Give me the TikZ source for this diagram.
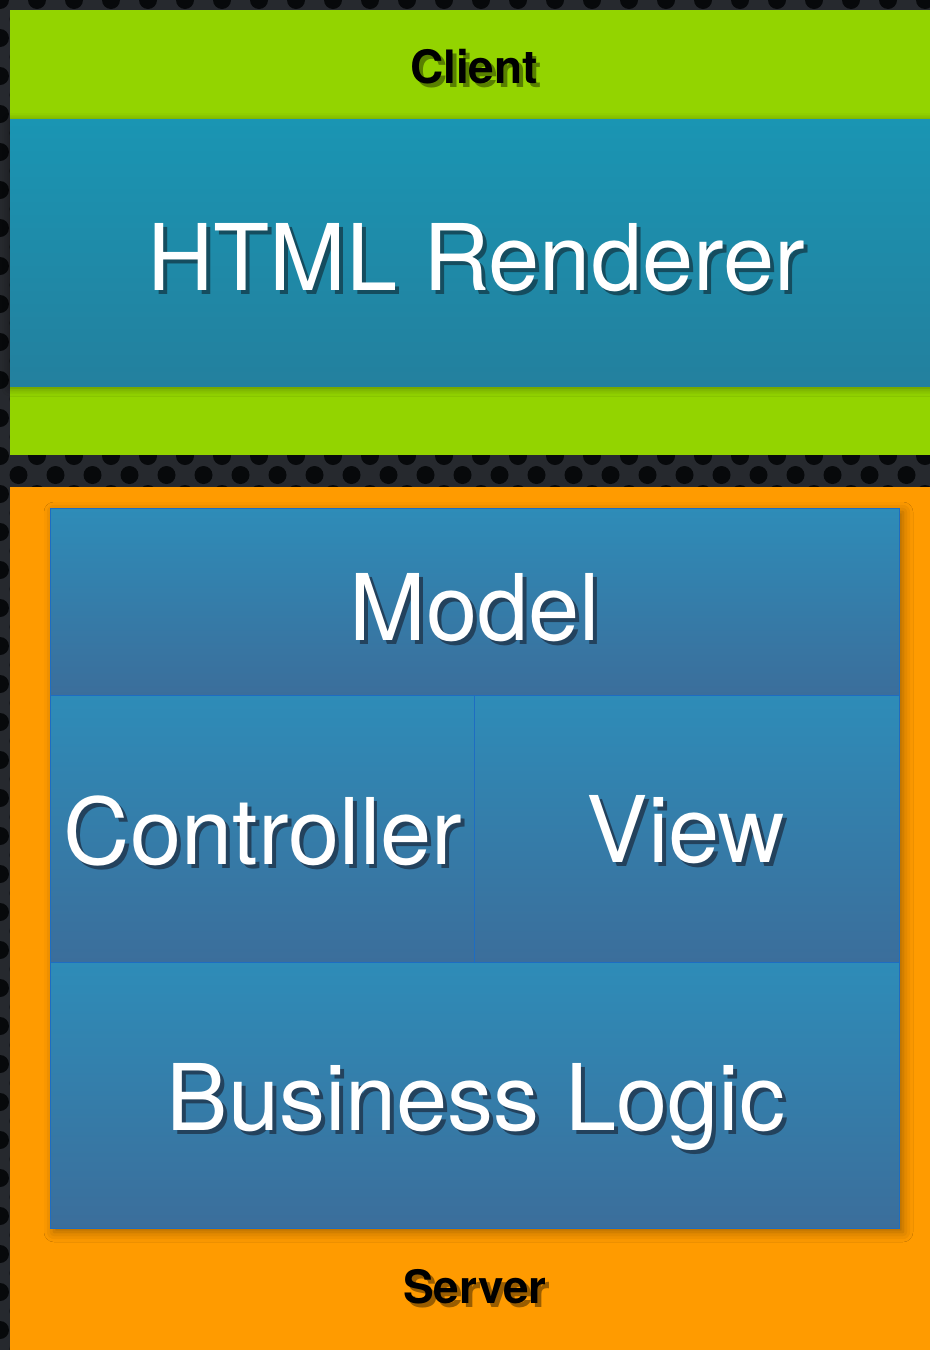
\documentclass[tikz,border=0pt]{standalone}
\usepackage{fontspec}
\setmainfont{TeX Gyre Heros}
\usetikzlibrary{shadows.blur}
\definecolor{meshgrey}{HTML}{26292E}
\definecolor{meshhole}{HTML}{07090B}
\definecolor{clientgreen}{HTML}{93D400}
\definecolor{serverorange}{HTML}{FF9B00}
\definecolor{rendertop}{HTML}{1A95B3}
\definecolor{renderbot}{HTML}{23809E}
\definecolor{tiletop}{HTML}{2E8CB8}
\definecolor{tilebot}{HTML}{3B6E9B}
\definecolor{tileline}{HTML}{1E6DC2}

% text with a drop shadow: shadow colour, text
\newcommand{\shtext}[2]{\makebox[0pt][l]{\hspace{2pt}\raisebox{-2pt}{\color{#1}#2}}#2}

\begin{document}
\begin{tikzpicture}[x=0.5pt,y=-0.5pt,
    big/.style={text=white,font=\fontsize{46}{50}\selectfont,anchor=base,inner sep=0pt},
    tag/.style={text=black,font=\fontsize{23}{26}\selectfont\bfseries,anchor=base,inner sep=0pt},
    tile/.style={top color=tiletop,bottom color=tilebot,draw=tileline,line width=0.4pt}]

  \useasboundingbox (0,0) rectangle (930,1350);

  % --- perforated metal behind everything
  \fill[meshgrey] (0,0) rectangle (930,1350);
  \begin{scope}
    \clip (0,0) rectangle (930,1350);
    \foreach \r in {0,...,71}{
      \foreach \c in {0,...,25}{
        \fill[meshhole] ({\c*37+mod(\r,2)*18.5},{\r*19}) circle (9);
      }
    }
  \end{scope}

  % --- client side
  \fill[clientgreen] (10,10) rectangle (930,455);
  \shade[top color=rendertop,bottom color=renderbot,
         blur shadow={shadow xshift=0pt,shadow yshift=-1pt,shadow blur radius=4pt,shadow opacity=40}]
        (10,119) rectangle (930,386);
  \node[tag] (client) at (474,83) {\shtext{clientgreen!60!black}{Client}};
  \node[big] (renderer) at (476,290) {\shtext{renderbot!60!black}{HTML Renderer}};

  % --- server side
  \fill[serverorange] (10,487) rectangle (930,1350);
  \fill[tiletop,blur shadow={shadow xshift=2pt,shadow yshift=-2pt,shadow blur radius=5pt,shadow opacity=35}]
        (50,508) rectangle (899,1228);
  \shade[tile] (50,508) rectangle (899,695);
  \shade[tile] (50,695) rectangle (474,962);
  \shade[tile] (474,695) rectangle (899,962);
  \shade[tile] (50,962) rectangle (899,1228);
  \node[big] (model) at (475,640) {\shtext{tilebot!60!black}{Model}};
  \node[big] (controller) at (263,864) {\shtext{tilebot!60!black}{Controller}};
  \node[big] (view) at (686,862) {\shtext{tilebot!60!black}{View}};
  \node[big] (logic) at (476,1130) {\shtext{tilebot!60!black}{Business Logic}};
  \node[tag] (server) at (475,1303) {\shtext{serverorange!60!black}{Server}};
\end{tikzpicture}
\end{document}
